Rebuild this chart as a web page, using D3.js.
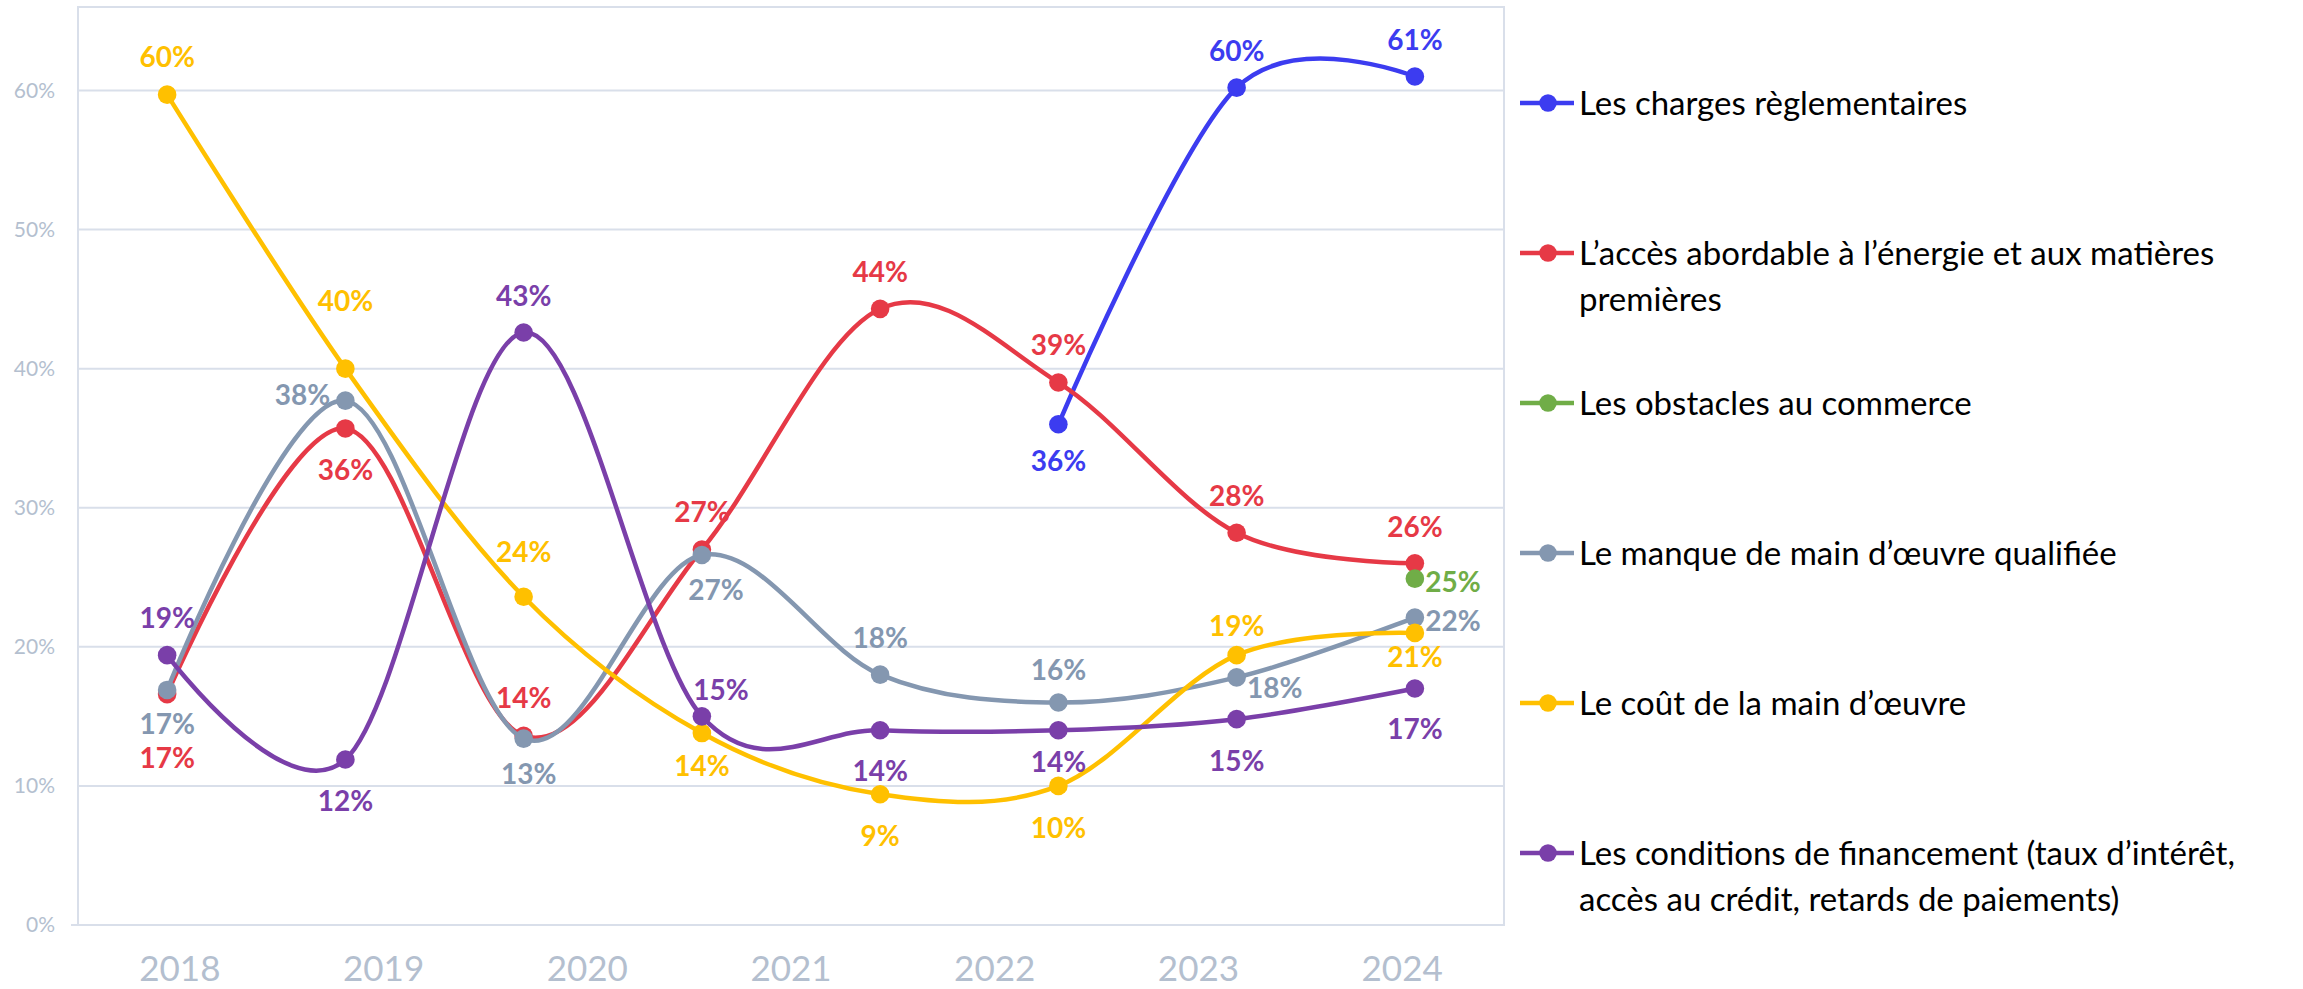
<!DOCTYPE html>
<html>
<head>
<meta charset="utf-8">
<script src="https://cdn.jsdelivr.net/npm/d3@7"></script>
<style>
  html, body { margin: 0; padding: 0; background: #ffffff; }
  svg { display: block; }
</style>
</head>
<body>
<svg id="chart" width="2303" height="989"></svg>
<script>
// ---------- DATA ----------
const yearLabels = ["2018", "2019", "2020", "2021", "2022", "2023", "2024"];
// the line series sit on 8 evenly spaced survey points across the same width
const surveyPoints = ["v1", "v2", "v3", "v4", "v5", "v6", "v7", "v8"];
const yTicks = [0, 0.1, 0.2, 0.3, 0.4, 0.5, 0.6];

const seriesNames = [
  "Les charges règlementaires",
  "L’accès abordable à l’énergie et aux matières premières",
  "Les obstacles au commerce",
  "Le manque de main d’œuvre qualifiée",
  "Le coût de la main d’œuvre",
  "Les conditions de financement (taux d’intérêt, accès au crédit, retards de paiements)"
];
const chargesReglementaires = [null, null, null, null, null, 0.36, 0.602, 0.61];
const accesEnergie        = [0.166, 0.357, 0.136, 0.27, 0.443, 0.39, 0.282, 0.26];
const obstaclesCommerce   = [null, null, null, null, null, null, null, 0.249];
const manqueMainOeuvre    = [0.169, 0.377, 0.134, 0.266, 0.18, 0.16, 0.178, 0.221];
const coutMainOeuvre      = [0.597, 0.40, 0.236, 0.138, 0.094, 0.10, 0.194, 0.21];
const conditionsFinancement = [0.194, 0.119, 0.426, 0.15, 0.14, 0.14, 0.148, 0.17];

// ---------- STYLE / LAYOUT ----------
const colors = ["#3c3cf0", "#e63946", "#70ad47", "#8497b0", "#ffc000", "#7a3fa9"];
const legendLines = [
  ["Les charges règlementaires"],
  ["L’accès abordable à l’énergie et aux matières", "premières"],
  ["Les obstacles au commerce"],
  ["Le manque de main d’œuvre qualifiée"],
  ["Le coût de la main d’œuvre"],
  ["Les conditions de financement (taux d’intérêt,", "accès au crédit, retards de paiements)"]
];
// data-label offsets (dx, dy) from each marker, in px
const labelOffsets = [
  [null, null, null, null, null, [0, 36], [0, -38], [0, -38]],
  [[0, 63], [0, 41], [0, -39], [0, -38], [0, -38], [0, -39], [0, -38], [0, -37]],
  [null, null, null, null, null, null, null, [38, 2]],
  [[0, 33], [-43, -7], [5, 34], [14, 34], [0, -38], [0, -33], [38, 10], [38, 2]],
  [[0, -39], [0, -69], [0, -46], [0, 32], [0, 41], [0, 41], [0, -30], [0, 23]],
  [[0, -38], [0, 41], [0, -37], [19, -27], [0, 40], [0, 31], [0, 41], [0, 39]]
];

const seriesValues = [chargesReglementaires, accesEnergie, obstaclesCommerce,
                      manqueMainOeuvre, coutMainOeuvre, conditionsFinancement];

const plot = { left: 78, right: 1504, top: 7, bottom: 925 };
const FONT = "Lato, 'Open Sans', sans-serif";
const axisColor = "#b4bfcf";
const gridColor = "#d9dfea";

const svg = d3.select("#chart");

const x = d3.scaleBand().domain(surveyPoints).range([plot.left, plot.right]);
const xYears = d3.scaleBand().domain(yearLabels).range([plot.left, plot.right]);
const y = d3.scaleLinear().domain([0, 0.66]).range([plot.bottom, plot.top]);

// gridlines
svg.append("g")
  .selectAll("line")
  .data(yTicks.filter(d => d > 0))
  .join("line")
  .attr("x1", plot.left).attr("x2", plot.right)
  .attr("y1", d => y(d)).attr("y2", d => y(d))
  .attr("stroke", gridColor).attr("stroke-width", 2);

// plot border
svg.append("rect")
  .attr("x", plot.left).attr("y", plot.top)
  .attr("width", plot.right - plot.left).attr("height", plot.bottom - plot.top)
  .attr("fill", "none").attr("stroke", gridColor).attr("stroke-width", 2);

// y axis
const yAxis = d3.axisLeft(y).tickValues(yTicks).tickFormat(d3.format(".0%")).tickSize(0).tickPadding(23);
const gy = svg.append("g").attr("transform", `translate(${plot.left},0)`).call(yAxis);
gy.select(".domain").remove();
gy.selectAll("text").attr("fill", axisColor).style("font-family", FONT).style("font-size", "21px");

// small tick at 0
svg.append("line").attr("x1", plot.left - 7).attr("x2", plot.left)
  .attr("y1", y(0)).attr("y2", y(0)).attr("stroke", gridColor).attr("stroke-width", 2);

// x axis (years)
const xAxis = d3.axisBottom(xYears).tickSize(0).tickPadding(31);
const gx = svg.append("g").attr("transform", `translate(0,${plot.bottom})`).call(xAxis);
gx.select(".domain").remove();
gx.selectAll("text").attr("fill", axisColor).style("font-family", FONT).style("font-size", "35px");

// lines
const line = d3.line()
  .defined(d => d.v !== null)
  .x(d => x(d.k) + x.bandwidth() / 2)
  .y(d => y(d.v))
  .curve(d3.curveCatmullRom.alpha(0));

const seriesData = seriesValues.map((vals, i) => ({
  i,
  name: seriesNames[i],
  color: colors[i],
  pts: vals.map((v, j) => ({ k: surveyPoints[j], v, j }))
}));

const gS = svg.append("g");
seriesData.forEach(s => {
  const g = gS.append("g");
  g.append("path")
    .attr("d", line(s.pts))
    .attr("fill", "none")
    .attr("stroke", s.color)
    .attr("stroke-width", 4.5)
    .attr("stroke-linejoin", "round");
  g.selectAll("circle")
    .data(s.pts.filter(d => d.v !== null))
    .join("circle")
    .attr("cx", d => x(d.k) + x.bandwidth() / 2)
    .attr("cy", d => y(d.v))
    .attr("r", 9.3)
    .attr("fill", s.color);
});

// labels
const gL = svg.append("g");
seriesData.forEach(s => {
  gL.selectAll(null)
    .data(s.pts.filter(d => d.v !== null && labelOffsets[s.i][d.j]))
    .join("text")
    .attr("x", d => x(d.k) + x.bandwidth() / 2 + labelOffsets[s.i][d.j][0])
    .attr("y", d => y(d.v) + labelOffsets[s.i][d.j][1])
    .attr("text-anchor", "middle")
    .attr("dominant-baseline", "central")
    .attr("fill", s.color)
    .style("font-family", FONT)
    .style("font-weight", "700")
    .style("font-size", "28px")
    .text(d => d3.format(".0%")(d.v));
});

// legend
const legendX = 1520, legendY0 = 103, legendStep = 150;
const gLeg = svg.append("g");
seriesData.forEach((s, i) => {
  const gy0 = legendY0 + i * legendStep;
  const g = gLeg.append("g").attr("transform", `translate(${legendX},${gy0})`);
  g.append("line").attr("x1", 0).attr("x2", 54).attr("y1", 0).attr("y2", 0)
    .attr("stroke", s.color).attr("stroke-width", 4.5);
  g.append("circle").attr("cx", 28).attr("cy", 0).attr("r", 8.7).attr("fill", s.color);
  const t = g.append("text")
    .attr("x", 59).attr("y", 0)
    .attr("fill", "#000")
    .style("font-family", FONT)
    .style("font-size", "33px");
  legendLines[i].forEach((ln, k) => {
    t.append("tspan").attr("x", 59).attr("y", k * 46).attr("dy", "0.35em").text(ln);
  });
});
</script>
</body>
</html>
